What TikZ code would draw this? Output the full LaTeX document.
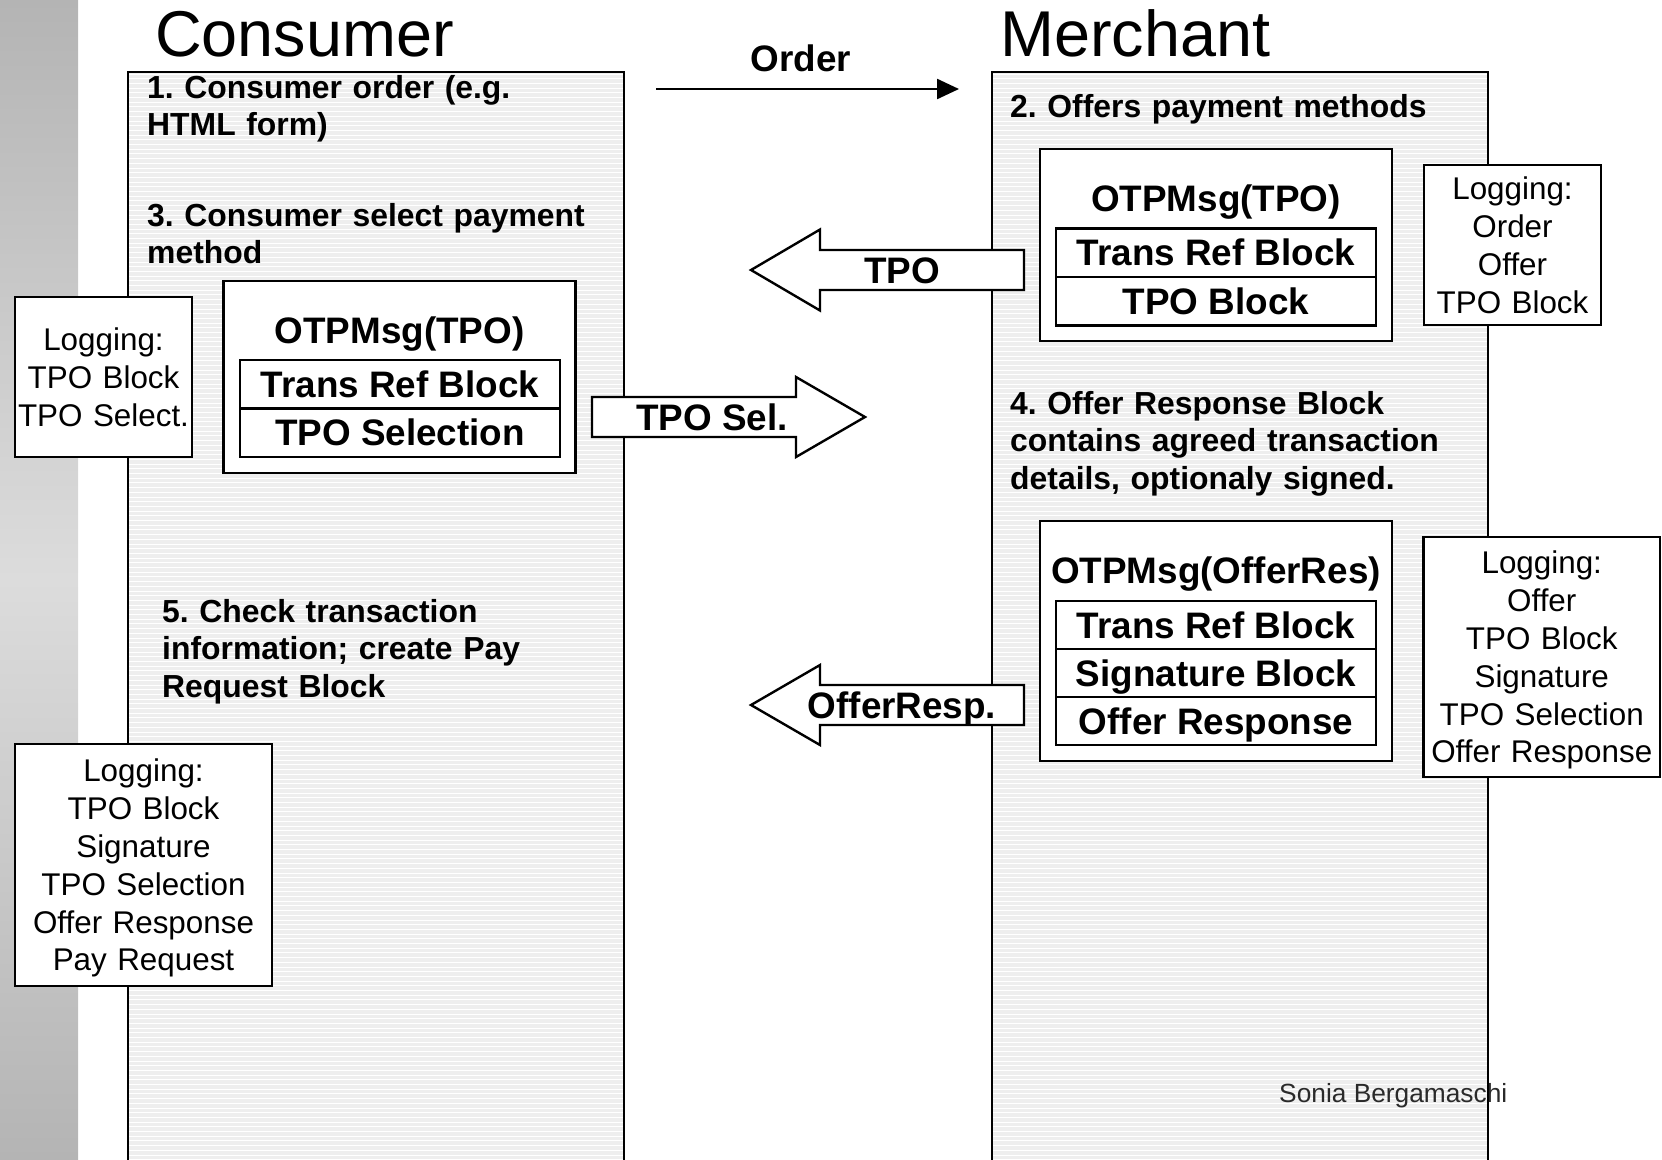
\documentclass[tikz,border=0pt]{standalone}
\usepackage{fontspec}
\setmainfont{Liberation Sans}
\usetikzlibrary{arrows.meta}
\definecolor{stripe}{HTML}{EEEEEE}
\definecolor{barmid}{HTML}{DCDCDC}
\definecolor{barend}{HTML}{B4B4B4}
\definecolor{sonia}{HTML}{2A2A2A}
\frenchspacing
\begin{document}
\begin{tikzpicture}[x=1bp,y=-1bp,
  lbl/.style={font=\fontsize{37}{44}\selectfont\bfseries, inner sep=0pt, text height=26.5pt, text depth=0pt},
  rowbox/.style={lbl, draw, fill=white, line width=2.4pt, minimum width=320bp, minimum height=48bp},
  msgbox/.style={draw, fill=white, line width=2.4pt, inner sep=0pt, minimum width=352bp},
  logbox/.style={draw, fill=white, line width=2.4pt, inner sep=0pt, align=center, font=\fontsize{31.5}{38}\selectfont, text height=22.6pt},
  steptext/.style={font=\fontsize{32}{38}\selectfont\bfseries, anchor=base west, align=left, inner sep=0pt, text width=500pt},
  blockarrow/.style={draw, fill=white, line width=2.4pt, line join=miter},
  titletext/.style={font=\fontsize{65}{72}\selectfont, anchor=base west, inner sep=0pt},
  colborder/.style={line width=2.2pt}
]
\useasboundingbox (0,0) rectangle (1662,1159);
% left gray bar
\shade[top color=barend, bottom color=barend, middle color=barmid] (0,0) rectangle (78,1159);
% column backgrounds
\fill[stripe] (128,72) rectangle (624,1159);
\fill[stripe] (992,72) rectangle (1488,1159);
\foreach \yy in {74,78.7,...,1159} {
  \draw[white, line width=1pt] (128,\yy) -- (624,\yy);
  \draw[white, line width=1pt] (992,\yy) -- (1488,\yy);
}
\node[font=\fontsize{26.4}{30}\selectfont, text=sonia, anchor=base west, inner sep=0pt] (sig) at (1279,1102) {Sonia Bergamaschi};
\draw[colborder] (128,1162) -- (128,72) -- (624,72) -- (624,1162);
\draw[colborder] (992,1162) -- (992,72) -- (1488,72) -- (1488,1162);
% titles
\node[titletext] (ctitle) at (155,56) {Consumer};
\node[titletext] (mtitle) at (1000,56) {Merchant};
% order arrow
\coordinate (ostart) at (656,89);
\coordinate (oend) at (959,89);
\draw[line width=2.4pt, -{Triangle[length=22pt,width=20pt]}] (ostart) -- (oend);
\node[lbl] (orderlbl) at (801,58.5) {Order};
% block arrows
\coordinate (tpotip) at (751,270);
\draw[blockarrow] (tpotip) -- ++(69,-40.5) -- ++(0,20.5) -- ++(204,0) -- ++(0,40) -- ++(-204,0) -- ++(0,20.5) -- cycle;
\node[lbl] (tpolbl) at (902,270) {TPO};
\coordinate (seltip) at (865,417);
\draw[blockarrow] (seltip) -- ++(-69,-40) -- ++(0,20) -- ++(-204,0) -- ++(0,40) -- ++(204,0) -- ++(0,20) -- cycle;
\node[lbl] (sellbl) at (712,417) {TPO Sel.};
\coordinate (offtip) at (751,705);
\draw[blockarrow] (offtip) -- ++(69,-40) -- ++(0,20) -- ++(204,0) -- ++(0,40) -- ++(-204,0) -- ++(0,20) -- cycle;
\node[lbl] (offlbl) at (902,705) {OfferResp.};
% step texts
\node[steptext] (s1) at (147,98) {1. Consumer order (e.g.\\HTML form)};
\node[steptext] (s3) at (147,226) {3. Consumer select payment\\method};
\node[steptext] (s2) at (1010,117) {2. Offers payment methods};
\node[steptext] (s4) at (1010,414) {4. Offer Response Block\\contains agreed transaction\\details, optionaly signed.};
\node[steptext] (s5) at (162,622) {5. Check transaction\\information; create Pay\\Request Block};
% consumer message
\node[msgbox, minimum height=192bp] (cmsg) at (399.5,377) {};
\node[lbl] (cmsgt) at (399.5,330) {OTPMsg(TPO)};
\node[rowbox, minimum height=48.5bp] (crow1) at (400,384.25) {Trans Ref Block};
\node[rowbox, minimum height=48.5bp] (crow2) at (400,432.75) {TPO Selection};
% merchant TPO message
\node[msgbox, minimum height=192bp] (mmsg) at (1216,245) {};
\node[lbl] (mmsgt) at (1216,198) {OTPMsg(TPO)};
\node[rowbox, minimum height=48.5bp] (mrow1) at (1216,252.75) {Trans Ref Block};
\node[rowbox, minimum height=48.5bp] (mrow2) at (1216,301.25) {TPO Block};
% merchant OfferRes message
\node[msgbox, minimum height=240bp] (omsg) at (1216,641) {};
\node[lbl] (omsgt) at (1216,570) {OTPMsg(OfferRes)};
\node[rowbox] (orow1) at (1216,625) {Trans Ref Block};
\node[rowbox] (orow2) at (1216,673) {Signature Block};
\node[rowbox] (orow3) at (1216,721) {Offer Response};
% logging boxes
\node[logbox, text width=177bp, minimum height=160bp, text depth=76pt] (log1) at (103.5,377) {Logging:\\TPO Block\\TPO Select.};
\node[logbox, text width=177bp, minimum height=160bp, text depth=114pt] (log2) at (1512.5,245) {Logging:\\Order\\Offer\\TPO Block};
\node[logbox, text width=236.5bp, minimum height=240bp, text depth=190pt] (log3) at (1541.75,657) {Logging:\\Offer\\TPO Block\\Signature\\TPO Selection\\Offer Response};
\node[logbox, text width=257bp, minimum height=242bp, text depth=190pt] (log4) at (143.5,865) {Logging:\\TPO Block\\Signature\\TPO Selection\\Offer Response\\Pay Request};
\end{tikzpicture}
\end{document}
